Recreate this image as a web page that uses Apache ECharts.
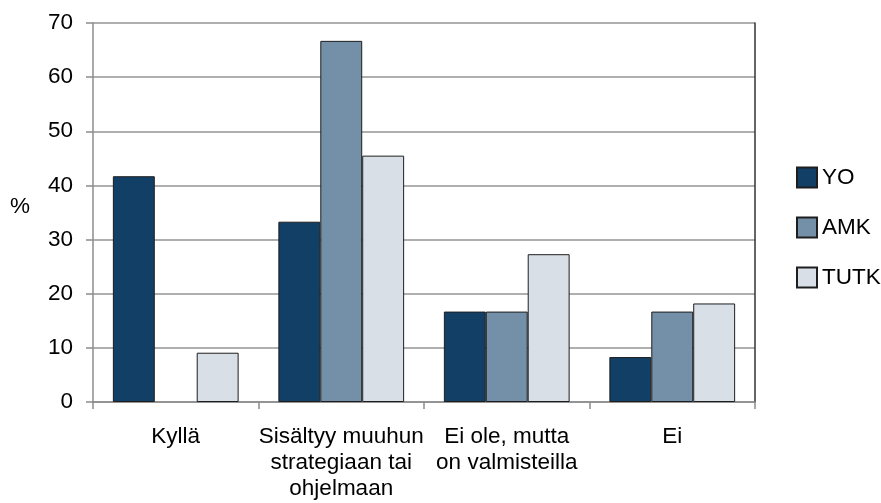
<!DOCTYPE html>
<html><head><meta charset="utf-8">
<script src="https://cdn.jsdelivr.net/npm/echarts@6/dist/echarts.min.js"></script>
<style>html,body{margin:0;padding:0;background:#fff}#c{width:881px;height:503px}</style>
</head><body><div id="c"></div>
<script>
const categories = ["Kyllä", "Sisältyy muuhun\nstrategiaan tai\nohjelmaan", "Ei ole, mutta\non valmisteilla", "Ei"];
const seriesNames = ["YO", "AMK", "TUTK"];
const yo = [41.7, 33.3, 16.7, 8.3];
const amk = [0, 66.7, 16.7, 16.7];
const tutk = [9.1, 45.5, 27.3, 18.2];
const colors = ["#113f66", "#7490a8", "#d9dfe6"];
const font = "Liberation Sans, Arial, sans-serif";
const fs = 22.5;

const chart = echarts.init(document.getElementById('c'));
const data = [yo, amk, tutk];
chart.setOption({
  animation: false,
  textStyle: {fontFamily: font},
  title: {text: '%', left: 5, top: 190, textStyle: {fontSize: fs, fontWeight: 'normal', color: '#000', fontFamily: font}},
  grid: {left: 93, right: 126, top: 23, bottom: 101, containLabel: false},
  legend: {
    orient: 'vertical', left: 791, top: 161,
    itemWidth: 20, itemHeight: 20, itemGap: 27,
    icon: 'rect',
    textStyle: {fontSize: fs, color: '#000', fontFamily: font, padding: [0, 0, 0, 0]},
    data: seriesNames
  },
  xAxis: {
    type: 'category', data: categories,
    axisLine: {lineStyle: {color: '#8c8c8c', width: 1.5}},
    axisTick: {show: true, length: 7, lineStyle: {color: '#8c8c8c', width: 1.5}},
    axisLabel: {fontSize: fs, color: '#000', margin: 22, lineHeight: 26, fontFamily: font, interval: 0}
  },
  yAxis: [{
    type: 'value', min: 0, max: 70, interval: 10,
    axisLine: {show: true, lineStyle: {color: '#8c8c8c', width: 1.5}},
    axisTick: {show: true, length: 7, lineStyle: {color: '#8c8c8c', width: 1.5}},
    axisLabel: {fontSize: fs, color: '#000', margin: 20, fontFamily: font},
    splitLine: {show: true, lineStyle: {color: '#959595', width: 1.5}}
  }, {
    type: 'value', min: 0, max: 70, interval: 10, position: 'right',
    axisLine: {show: true, lineStyle: {color: '#333', width: 1.5}},
    axisTick: {show: false}, axisLabel: {show: false}, splitLine: {show: false}
  }],
  series: seriesNames.map((n, i) => ({
    name: n, type: 'bar', yAxisIndex: 0,
    data: data[i].map(v => v === 0 ? {value: v, itemStyle: {borderWidth: 0}} : v),
    barGap: '0%', barCategoryGap: '24%',
    itemStyle: {color: colors[i], borderColor: '#1e1e1e', borderWidth: 1}
  }))
});
</script></body></html>
